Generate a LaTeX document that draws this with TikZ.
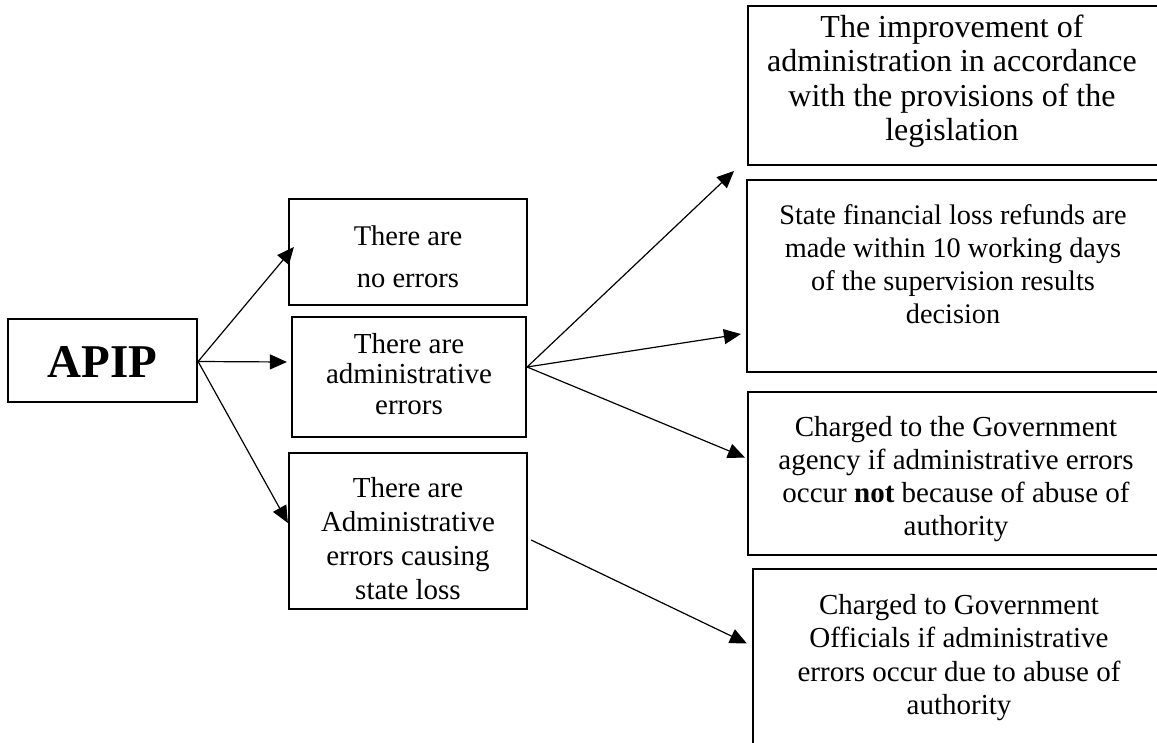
\documentclass[tikz,border=0pt]{standalone}
\usepackage{fontspec}
\setmainfont{Liberation Serif}
\usetikzlibrary{arrows.meta}
\begin{document}
\begin{tikzpicture}[x=1pt,y=-1pt]
\tikzset{
  box/.style={draw, rectangle, line width=2.2pt, inner sep=0pt},
  txt/.style 2 args={align=center, inner sep=0pt, font=\fontsize{#1}{#2}\selectfont},
  conn/.style={line width=1.2pt, -{Triangle[length=17pt,width=15pt]}}
}
\useasboundingbox (0,0) rectangle (1157,742);
\clip (0,0) rectangle (1157,742);
% left and middle boxes
\node[box, minimum width=189pt, minimum height=83pt] (apip) at (102.5,360.5) {};
\node[inner sep=0pt, font=\fontsize{47pt}{50pt}\selectfont\bfseries] (tapip) at (102.5,362) {APIP};
\node[box, minimum width=238pt, minimum height=106pt] (b1) at (408,252) {};
\node[txt={28.5pt}{42pt}] (t1) at (408,257) {There are\\no errors};
\node[box, minimum width=234pt, minimum height=120pt] (b2) at (409,377) {};
\node[txt={29pt}{30.5pt}] (t2) at (409,374) {There are\\administrative\\errors};
\node[box, minimum width=238pt, minimum height=156pt] (b3) at (408,531) {};
\node[txt={29pt}{34pt}] (t3) at (408,539) {There are\\Administrative\\errors causing\\state loss};
% right boxes (cut by the page edge)
\node[box, minimum width=414pt, minimum height=159pt] (rA) at (955,85.5) {};
\node[txt={32pt}{34.5pt}] (tA) at (952,81) {The improvement of\\administration in accordance\\with the provisions of the\\legislation};
\node[box, minimum width=415pt, minimum height=192pt] (rB) at (954.5,276) {};
\node[txt={28.3pt}{33pt}] (tB) at (953,264) {State financial loss refunds are\\made within 10 working days\\of the supervision results\\decision};
\node[box, minimum width=414pt, minimum height=163pt] (rC) at (955,473.5) {};
\node[txt={29pt}{33pt}] (tC) at (956,479.5) {Charged to the Government\\agency if administrative errors\\occur \textbf{not} because of abuse of\\authority};
\node[box, minimum width=409pt, minimum height=177pt] (rD) at (957.5,657.5) {};
\node[txt={29pt}{33.5pt}] (tD) at (959,657.5) {Charged to Government\\Officials if administrative\\errors occur due to abuse of\\authority};
% connectors
\coordinate (pA) at (734,171);
\draw[conn] ([yshift=-1pt]apip.east) -- ([xshift=6pt,yshift=5pt]b1.west);
\draw[conn] ([yshift=-1pt]apip.east) -- ([xshift=-4pt,yshift=15pt]b2.west);
\draw[conn] ([yshift=-1pt]apip.east) -- ([yshift=8pt]b3.west);
\draw[conn] ([yshift=10pt]b2.east) -- (pA);
\draw[conn] ([yshift=10pt]b2.east) -- ([xshift=-5pt,yshift=-58pt]rB.west);
\draw[conn] ([yshift=10pt]b2.east) -- ([xshift=-2pt,yshift=16pt]rC.west);
\draw[conn] ([xshift=3pt,yshift=-9pt]b3.east) -- ([xshift=-5pt,yshift=14pt]rD.west);
\end{tikzpicture}
\end{document}
